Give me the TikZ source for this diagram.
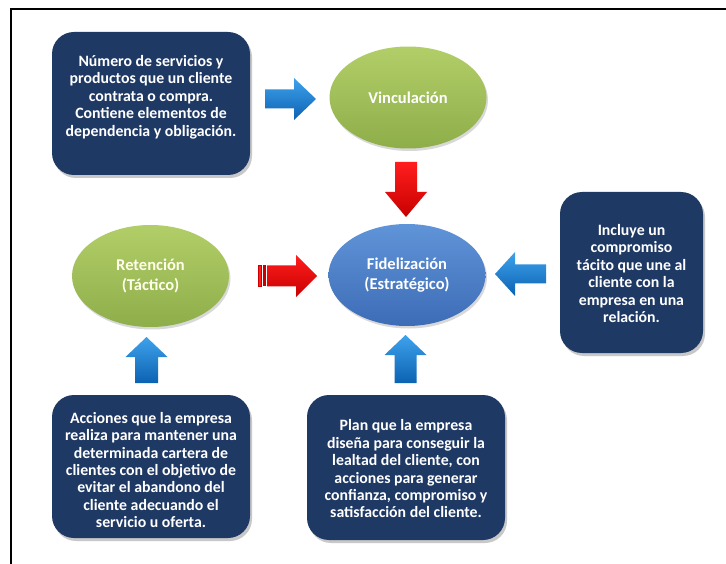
\documentclass[tikz,border=0pt]{standalone}
\usepackage{fontspec}
\setmainfont{Carlito}
\usetikzlibrary{shapes.geometric,shadows}
\definecolor{navy}{RGB}{31,57,101}
\definecolor{grnl}{RGB}{178,206,104}
\definecolor{grnd}{RGB}{142,174,74}
\definecolor{bel}{RGB}{96,148,216}
\definecolor{bed}{RGB}{60,108,182}
\definecolor{arl}{RGB}{62,162,236}
\definecolor{ard}{RGB}{12,98,178}
\definecolor{rdl}{RGB}{255,30,30}
\definecolor{rdd}{RGB}{200,0,0}
\begin{document}
\begin{tikzpicture}[x=1pt,y=-1pt,
  infobox/.style={rectangle, rounded corners=22pt, fill=navy, draw=none, inner sep=0pt,
    drop shadow={shadow xshift=2pt,shadow yshift=-3pt,opacity=0.3,fill=black!70}},
  boxtext/.style={text=white, font=\fontsize{15.8}{17.4}\selectfont\bfseries, align=center, inner sep=0pt},
  oval/.style={ellipse, minimum width=157pt, minimum height=102pt, inner sep=0pt,
    text=white, font=\fontsize{16.5}{20.5}\selectfont\bfseries, align=center,
    drop shadow={shadow xshift=1.5pt,shadow yshift=-2.5pt,opacity=0.25,fill=black!60}},
  greenoval/.style={oval, top color=grnl, bottom color=grnd},
  blueoval/.style={oval, top color=bel, bottom color=bed},
  bluefill/.style={top color=arl, bottom color=ard},
  redfill/.style={top color=rdl, bottom color=rdd},
  pics/barrow/.style n args={5}{code={%
    \path[#5] (0,-#2) -- (#1-#4,-#2) -- (#1-#4,-#3) -- (#1,0) -- (#1-#4,#3) -- (#1-#4,#2) -- (0,#2) -- cycle;}},
]
\useasboundingbox (0,0) rectangle (726,564);
\fill[white] (0,0) rectangle (726,564);
% frame
\draw[line width=2.5pt] (11,564) -- (11,9) -- (726,9);

% boxes
\node[infobox, minimum width=198pt, minimum height=143pt] (b1) at (151,103.5) {};
\node[boxtext] (t1) at (151,97) {Número de servicios y\\productos que un cliente\\contrata o compra.\\Contiene elementos de\\dependencia y obligación.};

\node[infobox, minimum width=143pt, minimum height=161pt] (b2) at (631.5,272.5) {};
\node[boxtext] (t2) at (631.5,273.5) {Incluye un\\compromiso\\tácito que une al\\cliente con la\\empresa en una\\relación.};

\node[infobox, minimum width=198pt, minimum height=143pt] (b3) at (151,466.5) {};
\node[boxtext] (t3) at (151,470) {Acciones que la empresa\\realiza para mantener una\\determinada cartera de\\clientes con el objetivo de\\evitar el abandono del\\cliente adecuando el\\servicio u oferta.};

\node[infobox, minimum width=198pt, minimum height=145pt] (b4) at (406,467.5) {};
\node[boxtext] (t4) at (406,469) {Plan que la empresa\\diseña para conseguir la\\lealtad del cliente, con\\acciones para generar\\confianza, compromiso y\\satisfacción del cliente.};

% ovals
\node[greenoval] (vinc) at (408,97.5) {Vinculación};
\node[greenoval, text=white!92!yellow] (ret) at (150.5,276) {Retención\\(Táctico)};
\node[blueoval] (fid) at (407,275) {Fidelización\\(Estratégico)};

% arrow end points
\coordinate (a1) at (265,99);
\coordinate (a2) at (406,162);
\coordinate (a3) at (267,276);
\coordinate (a4) at (546,274);
\coordinate (a5) at (146.5,383);
\coordinate (a6) at (405.5,383);

% block arrows
\pic at (a1) {barrow={51}{9.5}{21}{22}{bluefill}};
\pic[rotate=-90] at (a2) {barrow={55}{11}{21}{25}{redfill}};
\pic at (a3) {barrow={50}{10.5}{21}{21}{redfill}};
\fill[rdl, draw=rdd, line width=0.6pt] (258,265.5) rectangle (261,286.5);
\fill[rdd] (262.8,265.5) rectangle (265.5,286.5);
\pic[rotate=180] at (a4) {barrow={51}{9.5}{22}{20}{bluefill}};
\pic[rotate=90] at (a5) {barrow={46}{11.5}{21}{20}{bluefill}};
\pic[rotate=90] at (a6) {barrow={48}{11}{21}{20}{bluefill}};
\end{tikzpicture}
\end{document}
